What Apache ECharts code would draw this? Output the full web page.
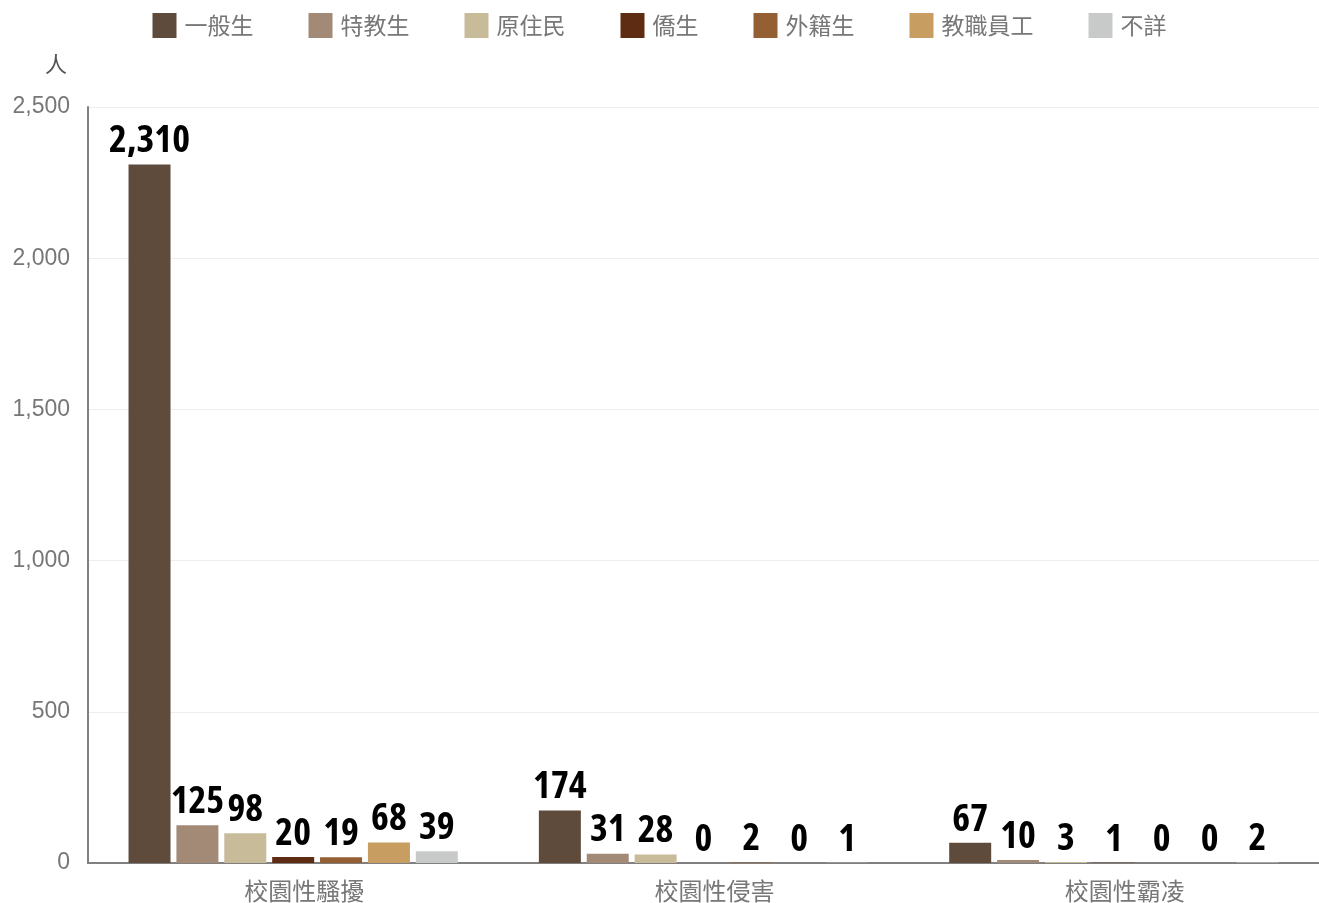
<!DOCTYPE html>
<html>
<head>
<meta charset="utf-8">
<script src="https://cdn.jsdelivr.net/npm/echarts@6/dist/echarts.min.js"></script>
<style>
  html, body { margin: 0; padding: 0; background: #fff; }
  #main { width: 1319px; height: 903px; }
</style>
</head>
<body>
<div id="main"></div>
<script>
// 類別
var categories = ["校園性騷擾", "校園性侵害", "校園性霸凌"];
// 身分別
var seriesNames = ["一般生", "特教生", "原住民", "僑生", "外籍生", "教職員工", "不詳"];
var seriesColors = ["#5f4b3c", "#a38a77", "#c8bb9a", "#5e2c12", "#935f33", "#c79d61", "#c8cac9"];
// 各身分別人數（依類別順序）
var general = [2310, 174, 67];
var special = [125, 31, 10];
var indigenous = [98, 28, 3];
var overseas = [20, 0, 1];
var foreign = [19, 2, 0];
var staff = [68, 0, 0];
var unknown = [39, 1, 2];
var seriesValues = [general, special, indigenous, overseas, foreign, staff, unknown];

var myChart = echarts.init(document.getElementById("main"));

var series = seriesNames.map(function (name, i) {
  return {
    name: name,
    type: "bar",
    barWidth: 42,
    barGap: "14%",
    data: seriesValues[i],
    itemStyle: { color: seriesColors[i] },
    label: {
      show: true,
      position: "top",
      distance: 4,
      color: "#000",
      fontFamily: "'Open Sans', sans-serif",
      fontStyle: "extra-condensed",
      fontWeight: "bold",
      fontSize: 38,
      formatter: function (p) {
        return p.value.toLocaleString("en-US");
      }
    }
  };
});

var option = {
  animation: false,
  legend: {
    top: 8,
    left: "center",
    icon: "rect",
    itemWidth: 24,
    itemHeight: 25,
    itemGap: 55,
    textStyle: {
      color: "#777",
      fontSize: 23,
      fontFamily: "'Noto Sans CJK TC', sans-serif",
      padding: [0, 0, 0, 3]
    },
    data: seriesNames
  },
  grid: {
    top: 107,
    left: 88,
    right: 0,
    bottom: 40,
    containLabel: false
  },
  xAxis: {
    type: "category",
    data: categories,
    axisLine: { show: true, lineStyle: { color: "#808080", width: 2 } },
    axisTick: { show: false },
    axisLabel: {
      color: "#777",
      fontSize: 24,
      fontFamily: "'Noto Sans CJK TC', sans-serif",
      margin: 16,
      padding: [0, 0, 0, 22]
    }
  },
  yAxis: {
    type: "value",
    min: 0,
    max: 2500,
    interval: 500,
    name: "人",
    nameLocation: "end",
    nameGap: 32,
    nameTextStyle: {
      color: "#555",
      fontSize: 22,
      fontFamily: "'Noto Sans CJK TC', sans-serif",
      align: "right",
      padding: [0, 21, 0, 0]
    },
    axisLine: { show: true, lineStyle: { color: "#808080", width: 2 } },
    axisTick: { show: false },
    splitLine: { show: true, lineStyle: { color: "#eeeeee" } },
    axisLabel: {
      color: "#777",
      fontSize: 23,
      fontFamily: "'Liberation Sans', Arial, sans-serif",
      margin: 18
    }
  },
  series: series
};

option && myChart.setOption(option);
</script>
</body>
</html>
